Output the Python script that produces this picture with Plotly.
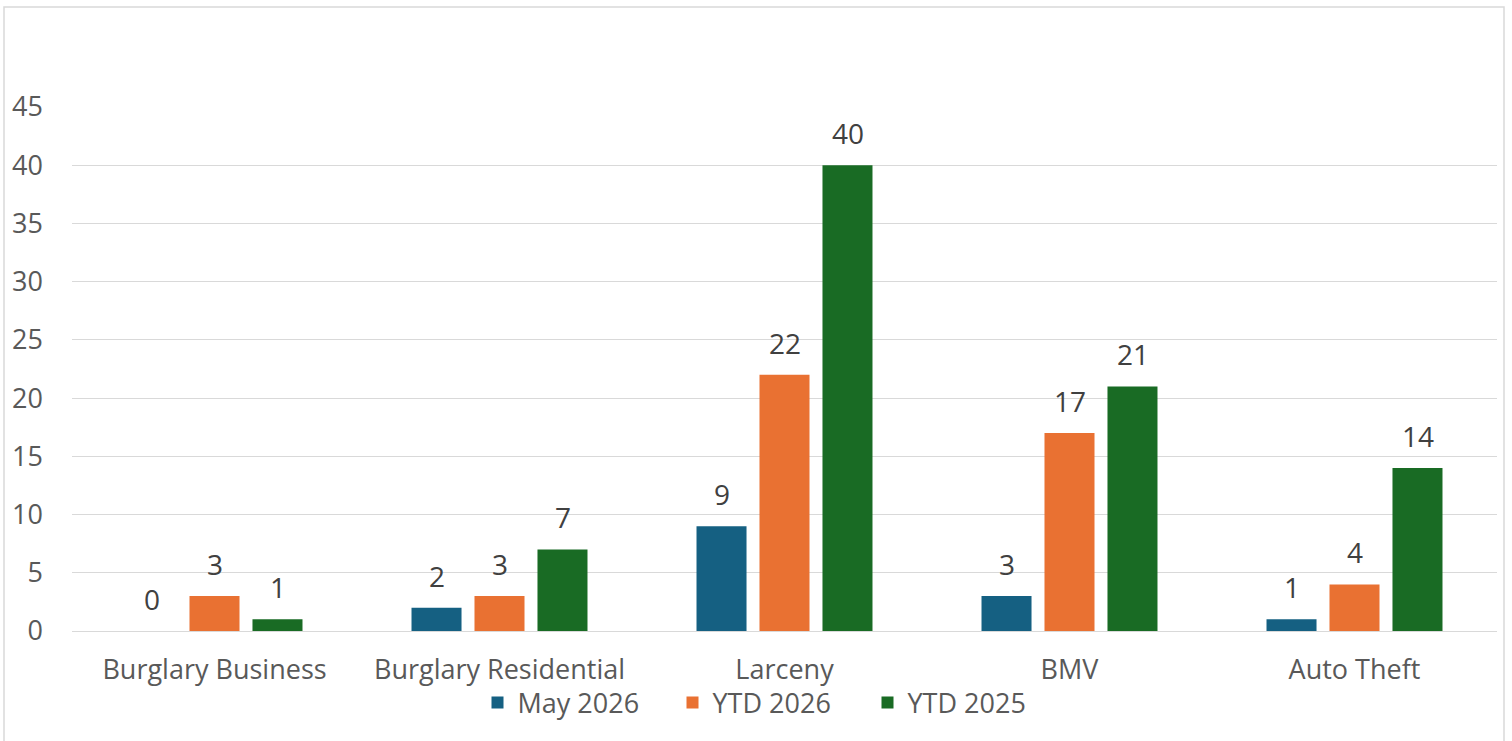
import plotly.graph_objects as go

categories = ["Burglary Business", "Burglary Residential", "Larceny", "BMV", "Auto Theft"]
may_2026 = [0, 2, 9, 3, 1]
ytd_2026 = [3, 3, 22, 17, 4]
ytd_2025 = [1, 7, 40, 21, 14]
series_names = ["May 2026", "YTD 2026", "YTD 2025"]
series_values = [may_2026, ytd_2026, ytd_2025]
series_colors = ["#156082", "#E97132", "#196B24"]
y_ticks = [0, 5, 10, 15, 20, 25, 30, 35, 40, 45]

FONT = "Open Sans"
FS = 27
W, H = 1512, 741
ML, MR, MT, MB = 72, 15, 107, 110

fig = go.Figure()
for name, vals, col in zip(series_names, series_values, series_colors):
    fig.add_trace(go.Bar(name=name, x=categories, y=vals, marker_color=col,
                         marker_line_width=0))

# data labels above bars
slot = 63
annotations = []
for i, vals in enumerate(series_values):
    for c, v in zip(categories, vals):
        annotations.append(dict(x=c, y=v, xref="x", yref="y", text=str(v),
                                showarrow=False, xshift=(i - 1) * slot, yshift=32,
                                yanchor="middle",
                                font=dict(family=FONT, size=FS + 1, color="#404040")))

pw = W - ML - MR
ph = H - MT - MB
fig.update_layout(
    width=W, height=H,
    margin=dict(l=ML, r=MR, t=MT, b=MB, autoexpand=False),
    paper_bgcolor="white", plot_bgcolor="white",
    barmode="group", bargap=0.337, bargroupgap=0.206,
    font=dict(family=FONT, size=FS, color="#595959"),
    showlegend=True,
    legend=dict(orientation="h", x=(770 - ML) / pw, xanchor="center",
                y=(H - MB - 703) / ph, yanchor="middle",
                bgcolor="rgba(0,0,0,0)",
                font=dict(family=FONT, size=FS, color="#595959"),
                itemclick=False, traceorder="normal", itemwidth=30,
                entrywidth=150, entrywidthmode="pixels"),
    annotations=annotations,
    shapes=[dict(type="rect", xref="paper", yref="paper",
                 x0=(4 - ML) / pw, x1=(1504 - ML) / pw,
                 y0=(H - MB - 760) / ph, y1=(H - MB - 7) / ph,
                 line=dict(color="#D9D9D9", width=1.5), fillcolor="rgba(0,0,0,0)",
                 layer="below")],
)
fig.update_xaxes(showgrid=False, showline=False, zeroline=False, ticks="",
                 ticklabelstandoff=20, tickangle=0, automargin=False,
                 tickfont=dict(family=FONT, size=FS, color="#595959"))
fig.update_yaxes(range=[0, 45], tickvals=y_ticks, showgrid=True, gridcolor="#D9D9D9",
                 gridwidth=1.3, zeroline=True, zerolinecolor="#D9D9D9", zerolinewidth=1.3,
                 showline=False, ticks="", ticklabelstandoff=28, automargin=False,
                 tickfont=dict(family=FONT, size=FS, color="#595959"))

fig.write_html("out.html")
